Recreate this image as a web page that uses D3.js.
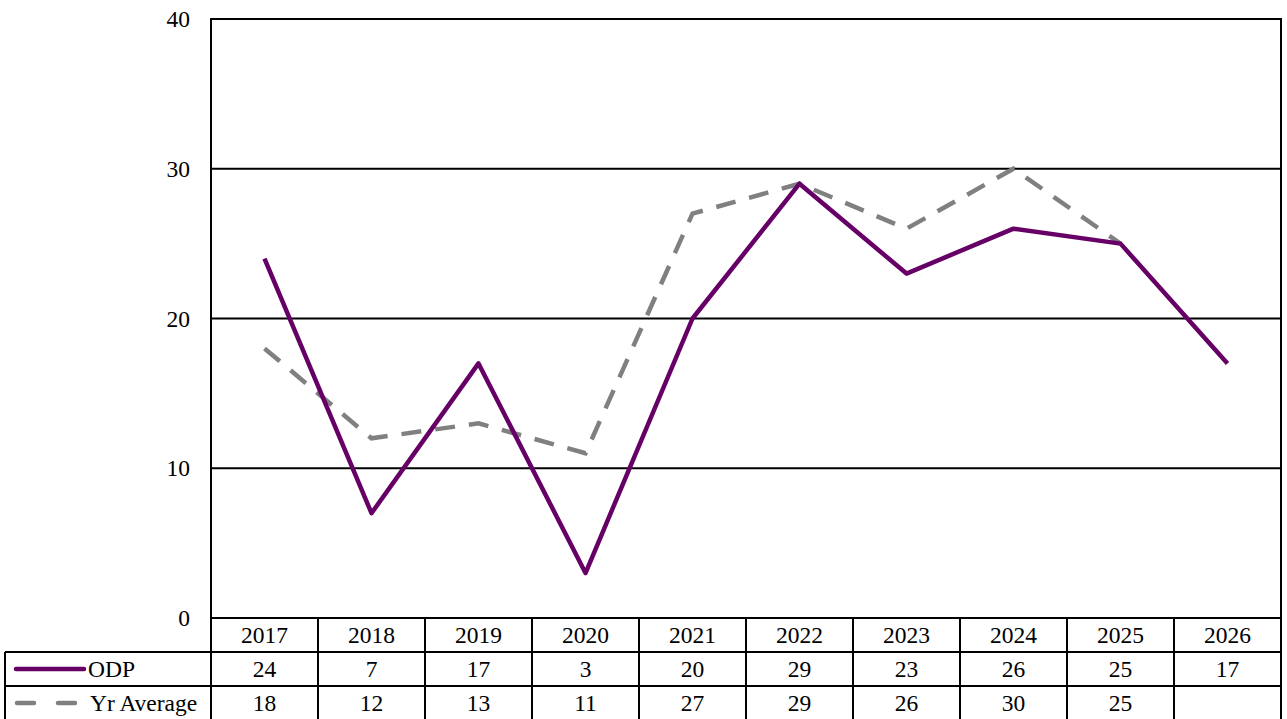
<!DOCTYPE html>
<html lang="en">
<head>
  <meta charset="UTF-8">
  <title>ODP vs Yr Average</title>
  <script src="https://d3js.org/d3.v7.min.js"></script>
  <style>
    body { margin: 0; padding: 0; background: #fff; }
    svg text { font-family: "Liberation Serif", Tinos, "Times New Roman", "DejaVu Serif", serif; font-size: 23.5px; fill: #000; }
  </style>
</head>
<body>
  <div id="chart"></div>
  <script>
    const years = ["2017", "2018", "2019", "2020", "2021", "2022", "2023", "2024", "2025", "2026"];
    const odp = [24, 7, 17, 3, 20, 29, 23, 26, 25, 17];
    const yrAverage = [18, 12, 13, 11, 27, 29, 26, 30, 25, null];
    const yTicks = [0, 10, 20, 30, 40];

    const W = 1287, H = 719;
    const plot = { left: 211, right: 1281, top: 19, bottom: 618 };
    const rowH = 34;
    const tableLeft = 5;
    const serif = '"Liberation Serif", Tinos, "Times New Roman", "DejaVu Serif", serif';

    const svg = d3.select("#chart").append("svg")
      .attr("width", W).attr("height", H)
      .attr("font-family", serif);

    const x = d3.scaleBand().domain(years).range([plot.left, plot.right]);
    const y = d3.scaleLinear().domain([0, 40]).range([plot.bottom, plot.top]);

    // gridlines
    svg.append("g").selectAll("line")
      .data(yTicks.filter(t => t > 0 && t < 40))
      .enter().append("line")
      .attr("x1", plot.left).attr("x2", plot.right)
      .attr("y1", d => y(d)).attr("y2", d => y(d))
      .attr("stroke", "#000").attr("stroke-width", 1.8);

    // y axis labels
    svg.append("g").selectAll("text")
      .data(yTicks)
      .enter().append("text")
      .attr("x", 190).attr("y", d => y(d) + 8)
      .attr("text-anchor", "end")
      .text(d => d);

    // plot frame
    svg.append("rect")
      .attr("x", plot.left).attr("y", plot.top)
      .attr("width", plot.right - plot.left).attr("height", plot.bottom - plot.top)
      .attr("fill", "none").attr("stroke", "#000").attr("stroke-width", 2);

    const cx = d => x(d) + x.bandwidth() / 2;

    const line = d3.line()
      .defined(d => d.v != null)
      .x(d => cx(d.year)).y(d => y(d.v));

    svg.append("path")
      .datum(years.map((yr, i) => ({ year: yr, v: yrAverage[i] })))
      .attr("d", line)
      .attr("fill", "none").attr("stroke", "#808080")
      .attr("stroke-width", 4.5).attr("stroke-dasharray", "20,14");

    svg.append("path")
      .datum(years.map((yr, i) => ({ year: yr, v: odp[i] })))
      .attr("d", line)
      .attr("fill", "none").attr("stroke", "#660066")
      .attr("stroke-width", 4.5).attr("stroke-linejoin", "round");

    // data table
    const t0 = plot.bottom;
    const table = svg.append("g");
    const hline = (x1, x2, yy) => table.append("line")
      .attr("x1", x1).attr("x2", x2).attr("y1", yy).attr("y2", yy)
      .attr("stroke", "#000").attr("stroke-width", 2);
    const vline = (xx, y1, y2) => table.append("line")
      .attr("x1", xx).attr("x2", xx).attr("y1", y1).attr("y2", y2)
      .attr("stroke", "#000").attr("stroke-width", 2);

    hline(tableLeft, plot.right, t0 + rowH);
    hline(tableLeft, plot.right, t0 + rowH * 2);
    vline(tableLeft, t0 + rowH, H);
    vline(plot.left, t0, H);
    years.forEach(yr => vline(x(yr) + x.bandwidth(), t0, H));

    const rows = [years, odp, yrAverage];
    rows.forEach((row, r) => {
      table.selectAll(null)
        .data(years)
        .enter().append("text")
        .attr("x", d => cx(d))
        .attr("y", t0 + rowH * r + 25)
        .attr("text-anchor", "middle")
        .text((d, i) => row[i] == null ? "" : row[i]);
    });

    // legend keys
    const ly1 = t0 + rowH * 1.5;
    table.append("line")
      .attr("x1", 16).attr("x2", 84).attr("y1", ly1).attr("y2", ly1)
      .attr("stroke", "#660066").attr("stroke-width", 4.5).attr("stroke-linecap", "round");
    table.append("text").attr("x", 88).attr("y", ly1 + 8).text("ODP");

    const ly2 = t0 + rowH * 2.5;
    table.append("line")
      .attr("x1", 17).attr("x2", 77).attr("y1", ly2).attr("y2", ly2)
      .attr("stroke", "#808080").attr("stroke-width", 4.5)
      .attr("stroke-linecap", "round").attr("stroke-dasharray", "17,24");
    table.append("text").attr("x", 90).attr("y", ly2 + 8).text("Yr Average");
  </script>
</body>
</html>
